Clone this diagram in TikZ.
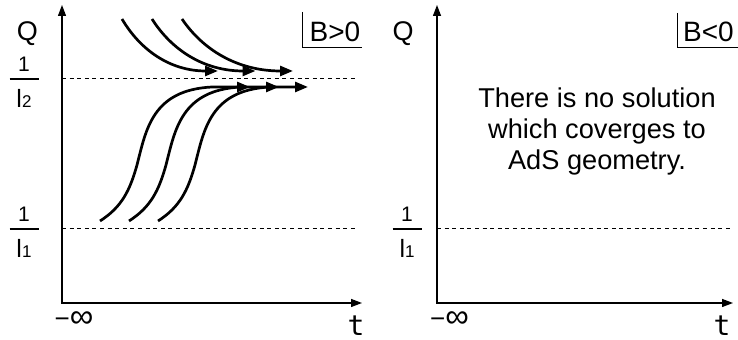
\documentclass[tikz,border=0pt]{standalone}
\usepackage{fontspec}
\setmainfont{Liberation Sans}
\newfontfamily\tickfont{DejaVu Sans Mono}
\usetikzlibrary{arrows.meta}
\tikzset{
  axis/.style={{Triangle[length=5.5pt,width=4pt]}-{Triangle[length=5.5pt,width=4pt]}, draw=black, line width=0.65pt},
  level/.style={draw=black, dash pattern=on 2pt off 1.8pt, line width=0.5pt},
  flow/.style={-{Triangle[length=6.5pt,width=5pt]}, draw=black, line width=1.35pt},
  signFrame/.style={draw=black, line width=0.5pt},
  fracBar/.style={draw=black, line width=0.6pt},
  axisLabel/.style={font=\fontsize{13.5}{16}\selectfont, inner sep=0pt, anchor=base},
  signLabel/.style={font=\fontsize{14}{16}\selectfont, inner sep=0pt, anchor=base},
  fracNum/.style={font=\fontsize{10.5}{12}\selectfont, inner sep=0pt, anchor=base},
  fracDen/.style={font=\fontsize{12.5}{14}\selectfont, inner sep=0pt, anchor=base},
  infLabel/.style={font=\fontsize{13}{15}\selectfont, inner sep=0pt},
  timeLabel/.style={font=\tickfont\fontsize{14}{16}\selectfont, inner sep=0pt, anchor=base},
  note/.style={font=\fontsize{13.6}{15.5}\selectfont, align=center, inner sep=0pt}
}
% 1/l_i label with its bar: name, x, y of bar, index
\newcommand{\invLength}[4]{%
  \node[fracNum] (#1num) at (#2,#3-7) {1};
  \node[fracDen] (#1den) at (#2,#3+29) {l{\fontsize{8.5}{10}\selectfont #4}};
  \draw[fracBar] (#2-14.5,#3) -- (#2+14.5,#3);
}
\newcommand{\minusInf}{−{\fontsize{16.5}{18}\selectfont ∞}}

\begin{document}
\begin{tikzpicture}[x=0.5pt,y=-0.5pt]
\useasboundingbox (0,0) rectangle (738,340);

% --------------------------------------------------------------------------
% Panel B>0
% --------------------------------------------------------------------------
\coordinate (aOrigin) at (62,303);
\coordinate (aTop) at (62,5);
\coordinate (aEnd) at (362,303);
\draw[axis] (aTop) -- (aOrigin) -- (aEnd);

\node[axisLabel] (aQ) at (27.5,41) {Q};
\node[signLabel] (aSign) at (335,41.7) {B>0};
\draw[signFrame] (302,12) -- (302,48) -- (362,48);

\draw[level] (62,79) -- (357,79);
\draw[level] (62,229) -- (357,229);
\invLength{aUpper}{24}{79}{2}
\invLength{aLower}{24}{229}{1}

\node[infLabel] (aInf) at (74,320) {\minusInf};
\node[timeLabel] (aT) at (356,336) {t};

% flows coming down onto 1/l2
\foreach \s/\e in {122/218,152/255.5,182/293} {
  \draw[flow] (\s,19) .. controls ({\s+0.19*(\e-\s)},50) and ({\s+0.5*(\e-\s)},71) .. (\e,71);
}
% flows rising from 1/l1 to 1/l2
\foreach \dx in {0,29,58} {
  \draw[flow] (100+\dx,221) .. controls (122+\dx,207) and (130+\dx,190) .. (137+\dx,165)
    .. controls (146+\dx,130) and (152+\dx,90) .. (212+\dx,87) -- (250+\dx,87);
}

% --------------------------------------------------------------------------
% Panel B<0
% --------------------------------------------------------------------------
\coordinate (bOrigin) at (437,303);
\coordinate (bTop) at (437,5);
\coordinate (bEnd) at (733,303);
\draw[axis] (bTop) -- (bOrigin) -- (bEnd);

\node[axisLabel] (bQ) at (403,41) {Q};
\node[signLabel] (bSign) at (708.5,42) {B<0};
\draw[signFrame] (677,13) -- (677,48) -- (738,48);

\draw[level] (437,229) -- (730,229);
\invLength{bLower}{407}{229}{1}

\node[note] (bNote) at (597,131) {There is no solution\\which coverges to\\AdS geometry.};

\node[infLabel] (bInf) at (449.5,320) {\minusInf};
\node[timeLabel] (bT) at (722,336) {t};

\end{tikzpicture}
\end{document}
